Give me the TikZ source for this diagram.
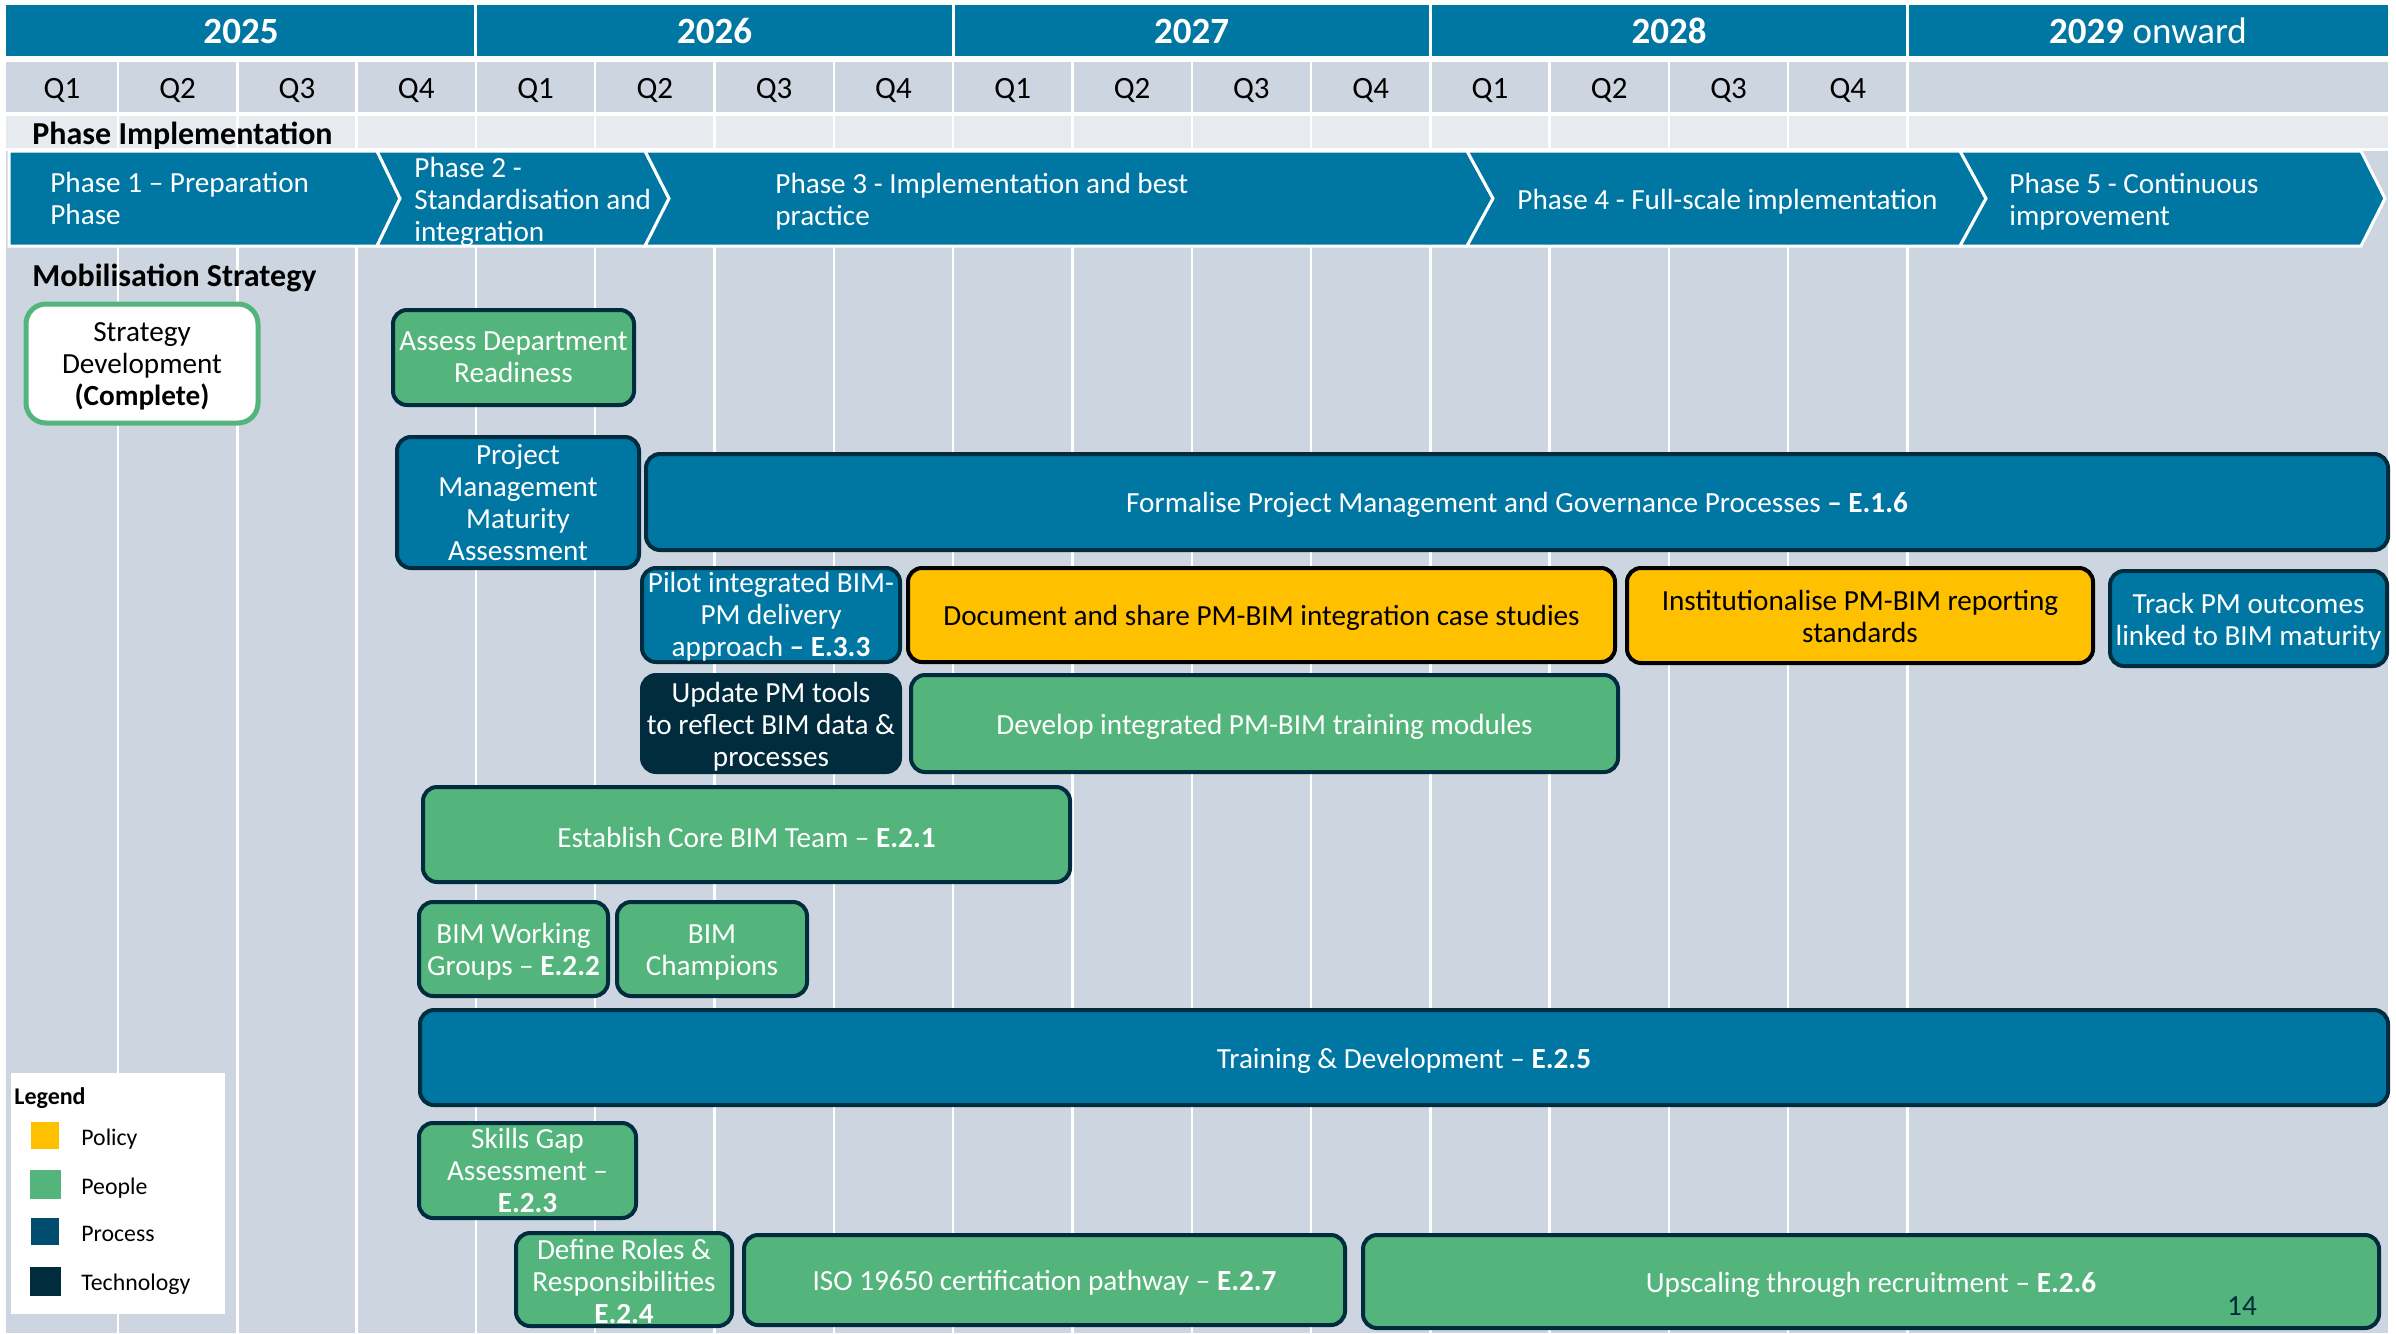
\documentclass[tikz,border=0pt]{standalone}
\usepackage{fontspec}
\setmainfont{Carlito}
\definecolor{hdr}{RGB}{0,119,163}
\definecolor{bg}{RGB}{205,214,224}
\definecolor{rowlt}{RGB}{231,235,240}
\definecolor{ppl}{RGB}{83,180,124}
\definecolor{pol}{RGB}{255,192,0}
\definecolor{navy}{RGB}{0,44,62}
\definecolor{procleg}{RGB}{0,77,112}
\newcommand\myboxfont{\fontsize{14.6}{16}\selectfont}
\newcommand\taskbox[8][-1.5pt]{%
  \node[#3,minimum width={(#6-#4)*0.5pt},minimum height={(#7-#5)*0.5pt}] (#2) at ({(#4+#6)/2},{(#5+#7)/2}) {};
  \node[#3,draw=none,fill=none,minimum width=0pt,minimum height=0pt,yshift=#1] (#2-txt) at (#2.center) {#8};}
\begin{document}
\begin{tikzpicture}[x=0.5pt,y=-0.5pt,
  gridline/.style={white,line width=1.2pt},
  yearlbl/.style={text=white,font=\fontsize{18.5}{20}\selectfont\bfseries},
  qlbl/.style={text=black,font=\fontsize{15.5}{18}\selectfont,yshift=-1.5pt},
  headlbl/.style={anchor=west,font=\fontsize{16}{18}\selectfont\bfseries,inner sep=0pt,yshift=-1.5pt},
  phase/.style={fill=hdr,draw=white,line width=1.5pt,line join=miter},
  phlbl/.style={anchor=west,align=left,text=white,font=\myboxfont,inner sep=0pt,yshift=-1.5pt},
  task/.style={rounded corners=7pt,line width=2pt,draw=navy,align=center,inner sep=1pt,font=\myboxfont},
  pplbox/.style={task,fill=ppl,text=white},
  procbox/.style={task,fill=hdr,text=white},
  polbox/.style={task,fill=pol,draw=black,text=black},
  techbox/.style={task,fill=navy,text=white},
  donebox/.style={task,fill=white,draw=ppl,line width=2.5pt,rounded corners=10pt,text=black},
  legtxt/.style={anchor=west,font=\fontsize{11.9}{13}\selectfont,inner sep=0pt,yshift=-1pt},
]
\useasboundingbox (0,0) rectangle (2396,1333);
\fill[white] (0,0) rectangle (2396,1333);
% background grid
\fill[bg] (6,62) rectangle (2388,1333);
\fill[white] (6,112) rectangle (2388,116);
\fill[rowlt] (6,116) rectangle (2388,148);
\fill[white] (6,148) rectangle (2388,151);
\foreach \k in {1,...,16} \draw[gridline] ({-1.3+119.3*\k},62) -- ({-1.3+119.3*\k},1333);
% year band
\fill[hdr] (6,5) rectangle (2388,56);
\foreach \k in {4,8,12,16} \draw[white,line width=1.5pt] ({-1.3+119.3*\k},5) -- ({-1.3+119.3*\k},56);
\node[yearlbl] (y25) at (241,31) {2025};
\node[yearlbl] (y26) at (714.5,31) {2026};
\node[yearlbl] (y27) at (1191.7,31) {2027};
\node[yearlbl] (y28) at (1669,31) {2028};
\node[yearlbl] (y29) at (2148,31) {2029 \mdseries onward};
% quarters
\node[qlbl] (q1) at (62,87) {Q1};
\foreach \k/\q in {2/Q2,3/Q3,4/Q4,5/Q1,6/Q2,7/Q3,8/Q4,9/Q1,10/Q2,11/Q3,12/Q4,13/Q1,14/Q2,15/Q3,16/Q4}
  \node[qlbl] (q\k) at ({-1.3+119.3*\k-59.65},87) {\q};
% headings
\node[headlbl] (phimp) at (32,133) {Phase Implementation};
\node[headlbl] (mobil) at (32,275) {Mobilisation Strategy};
% phase chevrons
\path[phase] (9,151) -- (377,151) -- (400,198.5) -- (377,246) -- (9,246) -- cycle;
\path[phase] (377,151) -- (645,151) -- (669,198.5) -- (645,246) -- (377,246) -- (400,198.5) -- cycle;
\path[phase] (645,151) -- (1467,151) -- (1493,198.5) -- (1467,246) -- (645,246) -- (669,198.5) -- cycle;
\path[phase] (1467,151) -- (1960,151) -- (1986,198.5) -- (1960,246) -- (1467,246) -- (1493,198.5) -- cycle;
\path[phase] (1960,151) -- (2361,151) -- (2385,198.5) -- (2361,246) -- (1960,246) -- (1986,198.5) -- cycle;
\node[phlbl,yshift=1.5pt] (ph1) at (50,198.5) {Phase 1 – Preparation\\Phase};
\node[phlbl] (ph2) at (414,198.5) {Phase 2 -\\Standardisation and\\integration};
\node[phlbl] (ph3) at (775,198.5) {Phase 3 - Implementation and best\\practice};
\node[phlbl] (ph4) at (1517,198.5) {Phase 4 - Full-scale implementation};
\node[phlbl] (ph5) at (2009,198.5) {Phase 5 - Continuous\\improvement};
% tasks
\taskbox{strat}{donebox}{26}{304}{258}{423}{Strategy\\Development\\\textbf{(Complete)}}
\taskbox[0pt]{assess}{pplbox}{393}{310}{634}{405}{Assess Department\\Readiness}
\taskbox[0pt]{pmma}{procbox}{397}{437}{639}{568}{Project\\Management\\Maturity\\Assessment}
\taskbox{formal}{procbox}{646}{454}{2388}{550}{Formalise Project Management and Governance Processes \textbf{– E.1.6}}
\taskbox[-0.7pt]{pilot}{procbox}{642}{568}{900}{662}{Pilot integrated BIM-\\PM delivery\\approach \textbf{– E.3.3}}
\taskbox{docu}{polbox}{908}{568}{1615}{662}{Document and share PM-BIM integration case studies}
\taskbox[-0.7pt]{inst}{polbox}{1627}{568}{2093}{663}{Institutionalise PM-BIM reporting\\standards}
\taskbox{track}{procbox}{2110}{571}{2387}{666}{Track PM outcomes\\linked to BIM maturity}
\taskbox{update}{techbox}{642}{675}{900}{772}{Update PM tools\\to reflect BIM data \&\\processes}
\taskbox{devel}{pplbox}{911}{675}{1618}{772}{Develop integrated PM-BIM training modules}
\taskbox{core}{pplbox}{423}{787}{1070}{882}{Establish Core BIM Team – \textbf{E.2.1}}
\taskbox{bimwg}{pplbox}{419}{902}{608}{996}{BIM Working\\Groups – \textbf{E.2.2}}
\taskbox{champ}{pplbox}{617}{902}{807}{996}{BIM\\Champions}
\taskbox{train}{procbox}{420}{1010}{2388}{1105}{Training \& Development – \textbf{E.2.5}}
\taskbox[0pt]{skills}{pplbox}{419}{1123}{636}{1218}{Skills Gap\\Assessment –\\\textbf{E.2.3}}
\taskbox[-1pt]{roles}{pplbox}{516}{1233}{732}{1326}{Define Roles \&\\Responsibilities\\\textbf{E.2.4}}
\taskbox{iso}{pplbox}{744}{1235}{1345}{1325}{ISO 19650 certification pathway – \textbf{E.2.7}}
\taskbox{upscale}{pplbox}{1363}{1235}{2379}{1328}{Upscaling through recruitment – \textbf{E.2.6}}
\node[text=navy,font=\myboxfont] (pgnum) at (2242,1306) {14};
% legend
\fill[white] (11,1073) rectangle (225,1314);
\node[legtxt,font=\fontsize{12}{13}\selectfont\bfseries] (leghd) at (14,1096) {Legend};
\fill[pol] (31,1122) rectangle (59,1149);
\fill[ppl] (30,1170) rectangle (61,1199);
\fill[procleg] (31,1218) rectangle (59,1245);
\fill[navy] (30,1267) rectangle (61,1296);
\node[legtxt] (legpol) at (81,1137) {Policy};
\node[legtxt] (legppl) at (81,1186) {People};
\node[legtxt] (legproc) at (81,1232) {Process};
\node[legtxt] (legtech) at (81,1282) {Technology};
\end{tikzpicture}
\end{document}
